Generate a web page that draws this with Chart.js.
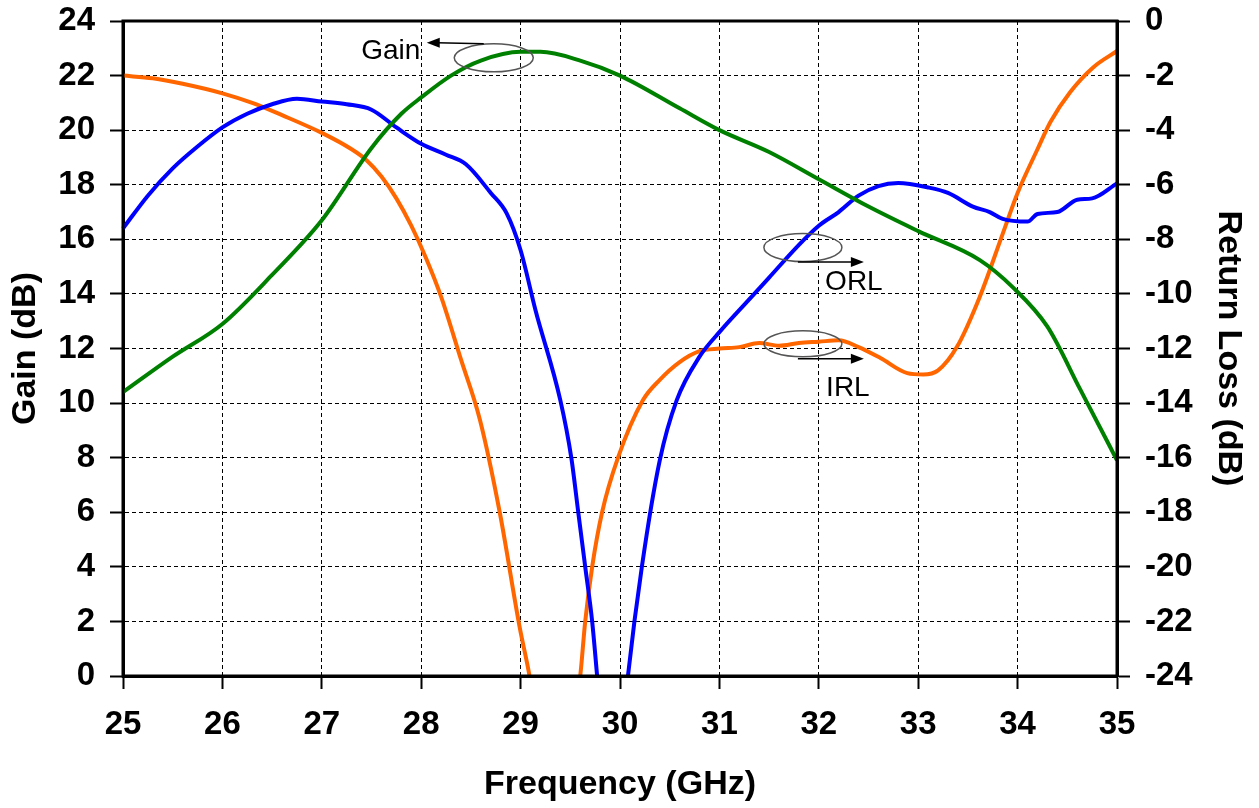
<!DOCTYPE html>
<html>
<head>
<meta charset="utf-8">
<script src="https://cdn.jsdelivr.net/npm/chart.js@4.4.1/dist/chart.umd.min.js"></script>
<style>
  html, body { margin: 0; padding: 0; background: #ffffff; }
  #wrap { width: 1259px; height: 808px; }
</style>
</head>
<body>
<div id="wrap"><canvas id="c" width="1259" height="808"></canvas></div>
<script>
// ---- Data ----
const gainFreq = [25, 25.5, 26, 26.5, 27, 27.5, 27.8, 28, 28.3, 28.6, 29, 29.2, 29.6, 30, 30.6, 31, 31.5, 32, 32.5, 33, 33.62, 33.95, 34.3, 34.63, 34.93, 35];
const gainDb   = [10.4, 11.7, 12.9, 14.7, 16.7, 19.35, 20.6, 21.2, 22.0, 22.55, 22.87, 22.87, 22.55, 22.0, 20.8, 20.0, 19.2, 18.2, 17.2, 16.3, 15.24, 14.25, 12.8, 10.5, 8.4, 7.9];

const orlFreq = [25, 25.25, 25.5, 25.75, 26, 26.25, 26.5, 26.75, 27, 27.25, 27.5, 27.75, 28, 28.25, 28.45, 28.7, 28.86, 29.0, 29.15, 29.4, 29.51, 29.58, 29.65, 29.72, 29.77, 29.92, 30.08, 30.22, 30.4, 30.57, 30.8, 31, 31.3, 31.5, 31.8, 32, 32.2, 32.4, 32.6, 32.8, 33.1, 33.3, 33.55, 33.72, 33.85, 34.1, 34.2, 34.4, 34.6, 34.75, 35];
const orlDb   = [-7.6, -6.4, -5.4, -4.6, -3.9, -3.4, -3.05, -2.85, -2.95, -3.05, -3.25, -3.9, -4.5, -4.9, -5.25, -6.3, -7.05, -8.4, -10.6, -13.9, -16.0, -18.0, -20.0, -22.0, -24.0, -30, -24.0, -20.0, -16.1, -13.9, -12.3, -11.4, -10.2, -9.4, -8.2, -7.5, -7.0, -6.4, -6.05, -5.94, -6.1, -6.3, -6.8, -7.0, -7.25, -7.35, -7.07, -7.0, -6.55, -6.5, -5.95];

const irlFreq = [25, 25.3, 25.6, 26, 26.3, 26.6, 27, 27.3, 27.45, 27.6, 27.75, 27.9, 28.05, 28.2, 28.4, 28.59, 28.79, 28.99, 29.09, 29.35, 29.6, 29.65, 29.72, 29.82, 29.98, 30.23, 30.4, 30.6, 30.8, 31, 31.2, 31.4, 31.6, 31.8, 32, 32.2, 32.4, 32.62, 32.89, 33.05, 33.2, 33.39, 33.62, 33.85, 34, 34.2, 34.33, 34.53, 34.76, 35];
const irlDb   = [-2.0, -2.1, -2.3, -2.65, -3.0, -3.45, -4.1, -4.7, -5.1, -5.7, -6.5, -7.5, -8.7, -10.1, -12.4, -14.6, -18.0, -22.2, -24.0, -30, -24.0, -22.0, -20.0, -18.0, -16.0, -13.9, -13.15, -12.5, -12.1, -12.0, -11.95, -11.8, -11.9, -11.8, -11.75, -11.7, -11.95, -12.35, -12.9, -12.95, -12.8, -11.94, -10.1, -7.8, -6.3, -4.7, -3.7, -2.6, -1.7, -1.1];

const xTitle = 'Frequency (GHz)';
const yLeftTitle = 'Gain (dB)';
const yRightTitle = 'Return Loss (dB)';

const FONT = "'Liberation Sans', Arial, Helvetica, sans-serif";
const toXY = (xs, ys) => xs.map((x, i) => ({ x: x, y: ys[i] }));

// ---- Annotation plugin (labels, ellipses, arrows) ----
const annotations = {
  id: 'annotations',
  afterDatasetsDraw(chart) {
    const ctx = chart.ctx;
    const xs = chart.scales.x, yl = chart.scales.yL, yr = chart.scales.yR;
    const ellipse = (cx, cy, rx, ry) => {
      ctx.save();
      ctx.strokeStyle = '#555555';
      ctx.lineWidth = 1.5;
      ctx.beginPath();
      ctx.ellipse(cx, cy, rx, ry, 0, 0, Math.PI * 2);
      ctx.stroke();
      ctx.restore();
    };
    const arrow = (x1, y1, x2, y2) => {
      ctx.save();
      ctx.strokeStyle = '#000';
      ctx.fillStyle = '#000';
      ctx.lineWidth = 1.5;
      const dir = Math.sign(x2 - x1);
      ctx.beginPath();
      ctx.moveTo(x1, y1);
      ctx.lineTo(x2 - dir * 10, y2);
      ctx.stroke();
      ctx.beginPath();
      ctx.moveTo(x2, y2);
      ctx.lineTo(x2 - dir * 13, y2 - 5);
      ctx.lineTo(x2 - dir * 13, y2 + 5);
      ctx.closePath();
      ctx.fill();
      ctx.restore();
    };
    const text = (t, x, y) => {
      ctx.save();
      ctx.fillStyle = '#000';
      ctx.font = "28px " + FONT;
      ctx.textAlign = 'center';
      ctx.textBaseline = 'middle';
      ctx.fillText(t, x, y);
      ctx.restore();
    };
    // Gain
    const gx = xs.getPixelForValue(28.73), gy = yl.getPixelForValue(22.65);
    ellipse(gx, gy, 39.5, 14);
    arrow(gx - 10, gy - 14, gx - 67, gy - 15);
    text('Gain', gx - 103, gy - 7);
    // ORL
    const ox = xs.getPixelForValue(31.84), oy = yr.getPixelForValue(-8.3);
    ellipse(ox, oy, 39, 14);
    arrow(ox - 5, oy + 14.5, ox + 61, oy + 14.5);
    text('ORL', ox + 51, oy + 35);
    // IRL
    const ix = xs.getPixelForValue(31.84), iy = yr.getPixelForValue(-11.83);
    ellipse(ix, iy, 39, 13);
    arrow(ix - 5, iy + 15, ix + 61, iy + 15);
    text('IRL', ix + 45, iy + 44);
  },
  afterDraw(chart) {
    const ctx = chart.ctx, a = chart.chartArea;
    ctx.save();
    ctx.strokeStyle = '#000';
    ctx.lineWidth = 3;
    ctx.strokeRect(a.left, a.top, a.right - a.left, a.bottom - a.top);
    ctx.restore();
  }
};

const tickFont = { family: FONT, size: 33, weight: 'bold' };
const titleFont = { family: FONT, size: 34, weight: 'bold', lineHeight: 1 };
const gridStyle = { color: '#000', lineWidth: 1, tickLength: 13, tickColor: '#000', tickWidth: 2, tickBorderDash: [] };
const borderStyle = { display: true, color: '#000', width: 3, dash: [4, 3] };
const fitY = (w) => (s) => { s.width = w; s.paddingTop = 0; s.paddingBottom = 0; };

new Chart(document.getElementById('c'), {
  type: 'line',
  data: {
    datasets: [
      { label: 'Gain', data: toXY(gainFreq, gainDb), yAxisID: 'yL', borderColor: '#008000', borderWidth: 4, pointRadius: 0, cubicInterpolationMode: 'monotone', fill: false, clip: { left: 3, right: 3, top: 3, bottom: 0 } },
      { label: 'ORL', data: toXY(orlFreq, orlDb), yAxisID: 'yR', borderColor: '#0000FF', borderWidth: 4, pointRadius: 0, cubicInterpolationMode: 'monotone', fill: false, clip: { left: 3, right: 3, top: 3, bottom: 0 } },
      { label: 'IRL', data: toXY(irlFreq, irlDb), yAxisID: 'yR', borderColor: '#FF6600', borderWidth: 4, pointRadius: 0, cubicInterpolationMode: 'monotone', fill: false, clip: { left: 3, right: 3, top: 3, bottom: 0 } }
    ]
  },
  options: {
    responsive: false,
    animation: false,
    devicePixelRatio: 1,
    layout: { padding: { top: 21, left: 0, right: 0, bottom: 0 } },
    plugins: { legend: { display: false }, tooltip: { enabled: false } },
    scales: {
      x: {
        type: 'linear', min: 25, max: 35,
        afterFit: (s) => { s.height = 132; },
        ticks: { stepSize: 1, color: '#000', font: tickFont, padding: 16 },
        grid: gridStyle,
        border: borderStyle,
        title: { display: true, text: xTitle, color: '#000', font: titleFont, padding: { top: 0, bottom: 6 } }
      },
      yL: {
        type: 'linear', position: 'left', min: 0, max: 24,
        afterFit: fitY(123),
        ticks: { stepSize: 2, color: '#000', font: tickFont, padding: 15 },
        grid: gridStyle,
        border: borderStyle,
        title: { display: true, text: yLeftTitle, color: '#000', font: titleFont, padding: { top: 9, bottom: 0 } }
      },
      yR: {
        type: 'linear', position: 'right', min: -24, max: 0,
        afterFit: fitY(142),
        ticks: { stepSize: 2, color: '#000', font: tickFont, padding: 15 },
        grid: { drawOnChartArea: false, tickLength: 13, tickColor: '#000', tickWidth: 2 },
        border: { display: true, color: '#000', width: 3 },
        title: { display: true, text: yRightTitle, color: '#000', font: titleFont, padding: { top: 14, bottom: 0 } }
      }
    }
  },
  plugins: [annotations]
});
</script>
</body>
</html>
